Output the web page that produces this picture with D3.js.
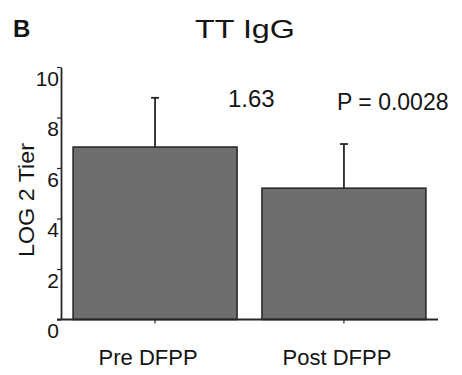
<!DOCTYPE html>
<html>
<head>
<meta charset="utf-8">
<script src="https://cdn.jsdelivr.net/npm/d3@7"></script>
<style>
  html, body { margin: 0; padding: 0; background: #fff; }
  svg { display: block; }
  text { font-family: "Liberation Sans", Arial, Helvetica, sans-serif; fill: #141414; }
</style>
</head>
<body>
<svg id="chart" width="462" height="375"></svg>
<script>
// TT IgG titres before and after DFPP (mean + SD, log2 scale)
const categories = ["Pre DFPP", "Post DFPP"];
const means = [6.83, 5.20];
const sds = [1.95, 1.75];
const yTicks = [0, 2, 4, 6, 8, 10];
const pValue = "P = 0.0028";

const svg = d3.select("#chart");
const ink = "#262626";

const x = d3.scaleBand()
  .domain(categories)
  .range([61, 438])
  .paddingInner(0.132)
  .paddingOuter(0.064);

const y = d3.scaleLinear()
  .domain([0, 10])
  .range([319.5, 67]);

// panel letter and title
svg.append("text")
  .attr("x", 13).attr("y", 37)
  .attr("font-size", 24).attr("font-weight", "bold")
  .text("B");

svg.append("text")
  .attr("x", 195).attr("y", 38)
  .attr("font-size", 26)
  .attr("textLength", 100)
  .attr("lengthAdjust", "spacingAndGlyphs")
  .text("TT IgG");

// bars
const rows = categories.map((c, i) => ({ c, m: means[i], sd: sds[i] }));

svg.append("g").selectAll("rect")
  .data(rows)
  .join("rect")
  .attr("x", d => x(d.c))
  .attr("y", d => y(d.m))
  .attr("width", x.bandwidth())
  .attr("height", d => y(0) - y(d.m))
  .attr("fill", "#6e6e6e")
  .attr("stroke", "#2a2a2a")
  .attr("stroke-width", 1.6);

// upper error bars
const err = svg.append("g").attr("stroke", ink).attr("stroke-width", 1.8);
err.selectAll("line.stem")
  .data(rows)
  .join("line")
  .attr("class", "stem")
  .attr("x1", d => x(d.c) + x.bandwidth() / 2)
  .attr("x2", d => x(d.c) + x.bandwidth() / 2)
  .attr("y1", d => y(d.m))
  .attr("y2", d => y(d.m + d.sd));
err.selectAll("line.cap")
  .data(rows)
  .join("line")
  .attr("class", "cap")
  .attr("x1", d => x(d.c) + x.bandwidth() / 2 - 4)
  .attr("x2", d => x(d.c) + x.bandwidth() / 2 + 4)
  .attr("y1", d => y(d.m + d.sd))
  .attr("y2", d => y(d.m + d.sd));

// y axis
const yAxis = svg.append("g")
  .attr("transform", "translate(61,0)")
  .call(d3.axisLeft(y).tickValues(yTicks).tickSize(4).tickSizeOuter(0).tickPadding(-2));
yAxis.select(".domain").attr("stroke", ink).attr("stroke-width", 1.8);
yAxis.selectAll(".tick line").attr("stroke", ink).attr("stroke-width", 1.2);
yAxis.selectAll(".tick text")
  .attr("font-size", 21)
  .attr("font-family", null)
  .attr("fill", "#141414")
  .attr("dy", "0.88em");

// x axis
const xAxis = svg.append("g")
  .attr("transform", `translate(0,${y(0)})`)
  .call(d3.axisBottom(x).tickSize(4).tickSizeOuter(0).tickPadding(26));
xAxis.select(".domain")
  .attr("d", "M57,0H438")
  .attr("stroke", ink).attr("stroke-width", 1.8);
xAxis.selectAll(".tick line").attr("stroke", ink).attr("stroke-width", 1.2);
xAxis.selectAll(".tick text")
  .attr("font-size", 22)
  .attr("font-family", null)
  .attr("fill", "#141414")
  .attr("dx", "-7");

// y axis title
svg.append("text")
  .attr("transform", "translate(34,200) rotate(-90)")
  .attr("text-anchor", "middle")
  .attr("font-size", 22)
  .attr("textLength", 114)
  .attr("lengthAdjust", "spacingAndGlyphs")
  .text("LOG 2 Tier");

// difference between means and p value
svg.append("text")
  .attr("x", 228).attr("y", 107)
  .attr("font-size", 24)
  .text(d3.format(".2f")(means[0] - means[1]));

svg.append("text")
  .attr("x", 337).attr("y", 110)
  .attr("font-size", 23)
  .text(pValue);
</script>
</body>
</html>
